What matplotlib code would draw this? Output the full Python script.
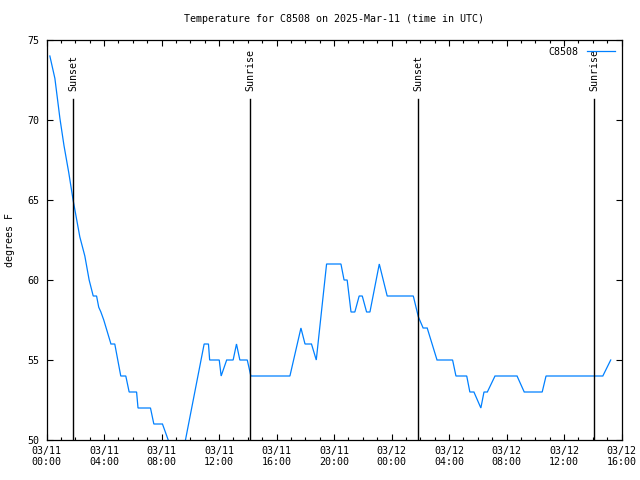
import matplotlib
matplotlib.use("Agg")
import matplotlib.pyplot as plt
import matplotlib.dates as mdates
import pandas as pd

# ---- data ----
times = [
    "2025-03-11 00:14", "2025-03-11 00:35", "2025-03-11 00:56", "2025-03-11 01:13",
    "2025-03-11 01:33", "2025-03-11 01:51", "2025-03-11 02:19", "2025-03-11 02:40",
    "2025-03-11 02:58", "2025-03-11 03:15", "2025-03-11 03:29", "2025-03-11 03:38",
    "2025-03-11 03:47", "2025-03-11 03:59", "2025-03-11 04:29", "2025-03-11 04:45",
    "2025-03-11 05:10", "2025-03-11 05:31", "2025-03-11 05:45", "2025-03-11 06:16",
    "2025-03-11 06:22", "2025-03-11 07:14", "2025-03-11 07:28", "2025-03-11 08:04",
    "2025-03-11 08:28", "2025-03-11 08:52", "2025-03-11 09:25", "2025-03-11 09:40",
    "2025-03-11 10:58", "2025-03-11 11:16", "2025-03-11 11:21", "2025-03-11 12:01",
    "2025-03-11 12:09", "2025-03-11 12:32", "2025-03-11 12:59", "2025-03-11 13:13",
    "2025-03-11 13:27", "2025-03-11 13:58", "2025-03-11 14:13", "2025-03-11 16:56",
    "2025-03-11 17:42", "2025-03-11 17:59", "2025-03-11 18:26", "2025-03-11 18:46",
    "2025-03-11 19:29", "2025-03-11 20:29", "2025-03-11 20:42", "2025-03-11 20:55",
    "2025-03-11 21:11", "2025-03-11 21:27", "2025-03-11 21:45", "2025-03-11 21:58",
    "2025-03-11 22:16", "2025-03-11 22:30", "2025-03-11 23:09", "2025-03-11 23:42",
    "2025-03-12 01:31", "2025-03-12 01:52", "2025-03-12 02:12", "2025-03-12 02:29",
    "2025-03-12 03:10", "2025-03-12 04:15", "2025-03-12 04:29", "2025-03-12 05:14",
    "2025-03-12 05:27", "2025-03-12 05:44", "2025-03-12 06:13", "2025-03-12 06:26",
    "2025-03-12 06:40", "2025-03-12 07:12", "2025-03-12 08:44", "2025-03-12 09:14",
    "2025-03-12 10:29", "2025-03-12 10:45", "2025-03-12 14:42", "2025-03-12 15:15",
]
temps = [
    74.0, 72.6, 70.1, 68.4,
    66.7, 65.0, 62.7, 61.5,
    60.0, 59.0, 59.0, 58.3,
    58.0, 57.5, 56.0, 56.0,
    54.0, 54.0, 53.0, 53.0,
    52.0, 52.0, 51.0, 51.0,
    50.0, 49.0, 49.0, 50.0,
    56.0, 56.0, 55.0, 55.0,
    54.0, 55.0, 55.0, 56.0,
    55.0, 55.0, 54.0, 54.0,
    57.0, 56.0, 56.0, 55.0,
    61.0, 61.0, 60.0, 60.0,
    58.0, 58.0, 59.0, 59.0,
    58.0, 58.0, 61.0, 59.0,
    59.0, 57.7, 57.0, 57.0,
    55.0, 55.0, 54.0, 54.0,
    53.0, 53.0, 52.0, 53.0,
    53.0, 54.0, 54.0, 53.0,
    53.0, 54.0, 54.0, 55.0,
]
series_name = "C8508"
sun_events = ["Sunset", "Sunrise", "Sunset", "Sunrise"]
sun_times = ["2025-03-11 01:51", "2025-03-11 14:10", "2025-03-12 01:52", "2025-03-12 14:07"]
x_start, x_end = "2025-03-11 00:00", "2025-03-12 16:00"
y_min, y_max = 50, 75
title = "Temperature for C8508 on 2025-Mar-11 (time in UTC)"
ylabel = "degrees F"

# ---- plot ----
FONT = "DejaVu Sans Mono"
FS = 7.2
plt.rcParams["font.family"] = FONT

fig = plt.figure(figsize=(6.4, 4.8), dpi=100)
ax = fig.add_axes([46.5 / 640, 40 / 480, 575 / 640, 400 / 480])

t = pd.to_datetime(times)
ax.plot(t, temps, color="#0080ff", lw=0.9, label=series_name, solid_joinstyle="miter")

line_top = 71.3
for name, st in zip(sun_events, pd.to_datetime(sun_times)):
    ax.plot([st, st], [y_min, line_top], color="black", lw=1.0)
    ax.text(st, line_top + 0.5, name, rotation=90, ha="center", va="bottom",
            fontsize=FS, color="black")

ax.set_xlim(pd.Timestamp(x_start), pd.Timestamp(x_end))
ax.set_ylim(y_min, y_max)

ax.xaxis.set_major_locator(mdates.HourLocator(byhour=[0, 4, 8, 12, 16, 20]))
ax.xaxis.set_minor_locator(mdates.HourLocator())
ax.xaxis.set_major_formatter(mdates.DateFormatter("%m/%d\n%H:%M"))
ax.set_yticks(range(y_min, y_max + 1, 5))

ax.tick_params(which="major", direction="in", length=4.5, width=0.8,
               top=True, right=True, labelsize=FS, pad=4)
ax.tick_params(which="minor", direction="in", length=2.2, width=0.8,
               top=True, right=True)
ax.tick_params(axis="y", pad=5)
for s in ax.spines.values():
    s.set_linewidth(0.9)

ax.set_ylabel(ylabel, fontsize=FS)
ax.yaxis.set_label_coords(-31.0 / 575, 0.5)
fig.text(333.5 / 640, 1 - 19 / 480, title, ha="center", va="center", fontsize=FS)

leg = ax.legend(loc="upper right", frameon=False, fontsize=FS, markerfirst=False,
                handlelength=2.8, handletextpad=0.8, borderaxespad=0.3,
                bbox_to_anchor=(1.0, 1.0))

fig.savefig("out.png", dpi=100)
